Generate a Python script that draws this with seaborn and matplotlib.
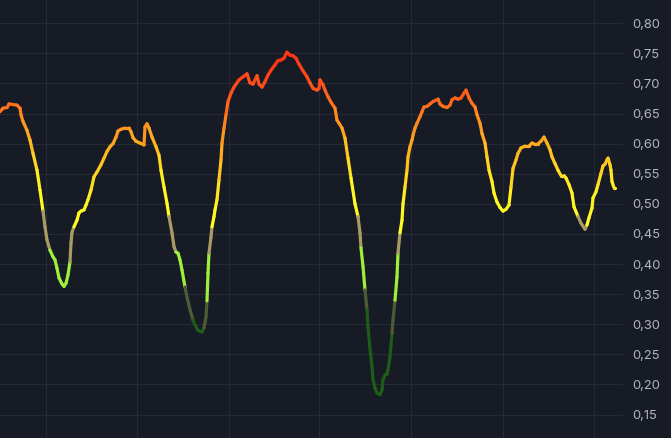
import numpy as np
import pandas as pd
import matplotlib
matplotlib.use("Agg")
import matplotlib.pyplot as plt
from matplotlib.colors import LinearSegmentedColormap, to_hex
from matplotlib.ticker import FuncFormatter
import seaborn as sns

# ---- data ----
t = [0, 3, 7, 9, 13, 17, 20, 21, 23, 27, 30, 33, 37, 40, 43, 45, 47, 50, 53, 55,
     57, 59, 62, 64, 66, 68, 70, 71, 72, 74, 77, 79, 81, 84, 86, 88, 91, 94, 97, 101,
     104, 107, 110, 113, 116, 118, 121, 125, 129, 131, 133, 136, 140, 144, 145, 147, 149, 152, 156, 159,
     161, 164, 167, 169, 172, 174, 176, 178, 180, 182, 185, 187, 190, 193, 195, 198, 202, 204, 206, 207,
     208, 209, 211, 212, 214, 215, 217, 219, 221, 222, 224, 226, 228, 231, 234, 239, 243, 247, 250, 253,
     255, 257, 259, 262, 265, 268, 271, 275, 278, 281, 284, 287, 290, 293, 296, 299, 303, 307, 310, 313,
     317, 319, 320, 323, 325, 328, 331, 335, 337, 339, 342, 345, 348, 351, 355, 358, 360, 361, 363, 365,
     367, 368, 370, 372, 373, 375, 377, 380, 382, 383, 385, 387, 388, 390, 392, 393, 395, 397, 398, 400,
     402, 403, 405, 407, 408, 410, 412, 413, 415, 417, 420, 422, 424, 427, 430, 433, 438, 440, 443, 447,
     450, 452, 455, 458, 461, 464, 466, 469, 472, 475, 477, 480, 482, 485, 487, 489, 492, 494, 497, 500,
     503, 506, 509, 511, 513, 516, 518, 521, 525, 529, 532, 534, 538, 541, 544, 547, 550, 552, 555, 558,
     561, 564, 566, 569, 572, 574, 578, 581, 585, 587, 589, 592, 593, 596, 598, 601, 603, 605, 607, 608,
     610, 611, 612, 614, 615]

valor = [0.653, 0.659, 0.660, 0.666, 0.665, 0.664, 0.659, 0.648, 0.637, 0.622, 0.606, 0.584, 0.556, 0.523, 0.488, 0.462, 0.440, 0.423, 0.412, 0.407,
         0.393, 0.377, 0.367, 0.363, 0.368, 0.382, 0.404, 0.435, 0.453, 0.462, 0.473, 0.485, 0.488, 0.490, 0.498, 0.507, 0.523, 0.545, 0.553, 0.565,
         0.576, 0.587, 0.595, 0.600, 0.611, 0.621, 0.624, 0.626, 0.626, 0.620, 0.610, 0.604, 0.601, 0.598, 0.628, 0.633, 0.626, 0.611, 0.595, 0.581,
         0.556, 0.528, 0.501, 0.479, 0.452, 0.429, 0.420, 0.418, 0.407, 0.390, 0.362, 0.345, 0.324, 0.307, 0.299, 0.290, 0.287, 0.294, 0.312, 0.339,
         0.385, 0.418, 0.445, 0.462, 0.479, 0.490, 0.507, 0.540, 0.573, 0.601, 0.626, 0.648, 0.670, 0.684, 0.694, 0.706, 0.711, 0.716, 0.701, 0.699,
         0.706, 0.713, 0.699, 0.694, 0.703, 0.714, 0.722, 0.731, 0.738, 0.739, 0.742, 0.752, 0.747, 0.746, 0.742, 0.732, 0.721, 0.711, 0.701, 0.692,
         0.689, 0.692, 0.706, 0.698, 0.689, 0.678, 0.669, 0.659, 0.639, 0.634, 0.626, 0.609, 0.576, 0.543, 0.500, 0.479, 0.452, 0.427, 0.396, 0.357,
         0.324, 0.296, 0.258, 0.230, 0.208, 0.194, 0.186, 0.183, 0.191, 0.208, 0.216, 0.217, 0.224, 0.246, 0.285, 0.307, 0.340, 0.379, 0.418, 0.452,
         0.473, 0.500, 0.528, 0.556, 0.578, 0.595, 0.606, 0.614, 0.626, 0.634, 0.645, 0.653, 0.661, 0.662, 0.666, 0.670, 0.674, 0.666, 0.662, 0.660,
         0.664, 0.673, 0.676, 0.674, 0.676, 0.684, 0.689, 0.676, 0.667, 0.661, 0.648, 0.634, 0.617, 0.601, 0.578, 0.556, 0.537, 0.518, 0.503, 0.494,
         0.488, 0.491, 0.498, 0.528, 0.559, 0.573, 0.584, 0.593, 0.596, 0.596, 0.601, 0.600, 0.600, 0.604, 0.611, 0.601, 0.590, 0.578, 0.567, 0.556,
         0.547, 0.547, 0.543, 0.532, 0.518, 0.495, 0.479, 0.468, 0.458, 0.465, 0.477, 0.493, 0.510, 0.520, 0.532, 0.551, 0.563, 0.566, 0.573, 0.576,
         0.565, 0.556, 0.537, 0.527, 0.527]

yticks = [0.15, 0.20, 0.25, 0.30, 0.35, 0.40, 0.45, 0.50, 0.55, 0.60, 0.65, 0.70, 0.75, 0.80]
xgrid = [46, 137, 229, 319, 411, 503, 594]

# ---- cores por faixa ----
fundo = "#171b26"
quente = LinearSegmentedColormap.from_list(
    "quente",
    [(0.0, "#ffff22"), (0.22, "#ffee22"), (0.41, "#ffbe1e"),
     (0.63, "#ff8a1e"), (0.81, "#ff561a"), (1.0, "#ff3514")])


def cor(v):
    if v < 0.30:
        return "#1e5c17"
    if v < 0.35:
        return "#4f5b34"
    if v < 0.42:
        return "#9ef03a"
    if v < 0.47:
        return "#a89c64"
    return to_hex(quente(float(np.clip((v - 0.47) / 0.27, 0.0, 1.0))))


# cada segmento recebe a cor do ponto final
linhas = []
paleta = {}
for i in range(1, len(t)):
    paleta[i] = cor(valor[i])
    linhas.append((t[i - 1], valor[i - 1], i))
    linhas.append((t[i], valor[i], i))
df = pd.DataFrame(linhas, columns=["t", "valor", "seg"])

sns.set_theme(style="dark", rc={
    "axes.facecolor": fundo,
    "figure.facecolor": fundo,
    "axes.edgecolor": fundo,
    "grid.color": "#262a35",
})
plt.rcParams["font.family"] = ["Inter", "DejaVu Sans"]

fig = plt.figure(figsize=(6.71, 4.38), dpi=100)
ax = fig.add_axes([0, 0, 623 / 671, 1])

sns.lineplot(data=df, x="t", y="valor", hue="seg", palette=paleta, units="seg",
             estimator=None, sort=False, legend=False, lw=2.3,
             solid_capstyle="round", solid_joinstyle="round", ax=ax)

ax.set_xlim(0, 623)
ax.set_ylim(0.1111, 0.8387)
ax.set_xticks(xgrid)
ax.set_xticklabels([])
ax.set_yticks(yticks)
ax.yaxis.tick_right()
ax.yaxis.set_major_formatter(FuncFormatter(lambda v, p: f"{v:.2f}".replace(".", ",")))
ax.tick_params(axis="y", length=0, pad=7, labelsize=9.3, labelcolor="#b2b5be")
ax.tick_params(axis="x", length=0)
ax.grid(True, color="#262a35", lw=0.8)
ax.set_xlabel("")
ax.set_ylabel("")
for s in ax.spines.values():
    s.set_visible(False)

fig.savefig("out.png", dpi=100, facecolor=fundo)
